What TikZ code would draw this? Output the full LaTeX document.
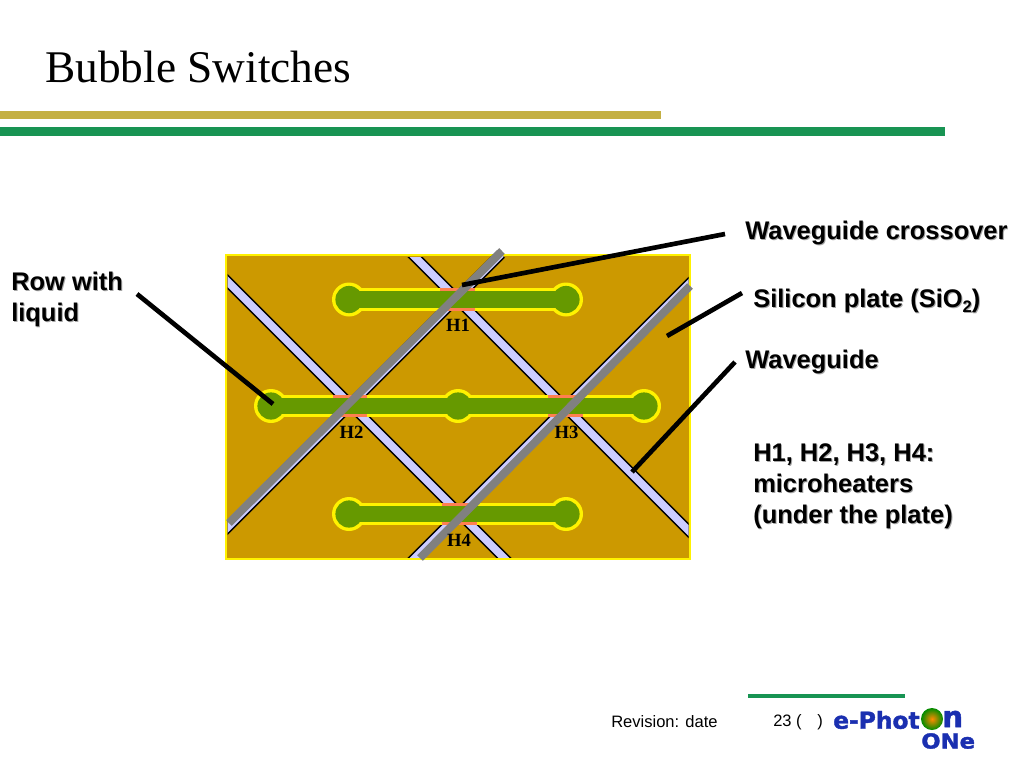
\documentclass[tikz,border=0pt]{standalone}
\usepackage{fontspec}
\setmainfont{Liberation Serif}
\newfontfamily\arialf{Liberation Sans}
\newfontfamily\logof[BoldFeatures={FakeBold=1.6}]{DejaVu Sans}
\definecolor{plate}{HTML}{CC9900}
\definecolor{bub}{HTML}{669900}
\definecolor{lav}{HTML}{CCCCFF}
\definecolor{greyw}{HTML}{808080}
\definecolor{heat}{HTML}{FF7F50}
\definecolor{goldb}{HTML}{C4B044}
\definecolor{greenb}{HTML}{189453}
\definecolor{logob}{HTML}{1A2FB0}
\tikzset{
  wave/.style={line width=1.1pt,double=lav,double distance=5.8pt},
  overlay grey/.style={draw=greyw,line width=6pt},
  callout/.style={draw=black,line width=3.5pt},
  bubout/.style={fill=yellow,draw=none},
  bubin/.style={fill=bub,draw=none},
  heater/.style={fill=heat,draw=none},
  lab/.style={font=\arialf\bfseries\fontsize{19.1pt}{23.2pt}\selectfont,anchor=west,align=left,inner sep=0pt,text=black},
  labs/.style={lab,text=black!35},
  hlab/.style={font=\bfseries\fontsize{14pt}{16pt}\selectfont,inner sep=0pt,text=black}
}
\begin{document}
\begin{tikzpicture}[x=0.75pt,y=-0.75pt]
\useasboundingbox (0,0) rectangle (1024,768);
% title bars
\fill[goldb] (0,111) rectangle (661,119.3);
\fill[greenb] (0,126.7) rectangle (945,136);
\node[anchor=west,inner sep=0pt,font=\fontsize{34pt}{36pt}\selectfont] (title) at (45,67) {Bubble Switches};
% plate
\fill[plate,draw=yellow,line width=2.1pt] (226,255) rectangle (690,559);
% waveguides
\coordinate (w1a) at (217,271); \coordinate (w1b) at (513,567);
\coordinate (w2a) at (405,247); \coordinate (w2b) at (698,540);
\coordinate (w3a) at (217,538); \coordinate (w3b) at (501,254);
\coordinate (w4a) at (405,568); \coordinate (w4b) at (697,276);
\begin{scope}
  \clip (227.5,257) rectangle (688.5,557);
  \draw[wave] (w1a) -- (w1b);
  \draw[wave] (w2a) -- (w2b);
  \draw[wave] (w4a) -- (w4b);
\end{scope}
\begin{scope}
  \clip (227.5,240) rectangle (688.5,557);
  \draw[wave] (w3a) -- (w3b);
\end{scope}
% bubbles: outline then fill
\foreach \x/\y in {349/299.5,566/299.5,271/406,458/406,644/406,349/514,566/514}
  \fill[bubout] (\x,\y) circle (17);
\fill[bubout] (349,288) rectangle (566,311);
\fill[bubout] (271,394.7) rectangle (644,417.3);
\fill[bubout] (349,502.7) rectangle (566,525.3);
\foreach \x/\y in {349/299.5,566/299.5,271/406,458/406,644/406,349/514,566/514}
  \fill[bubin] (\x,\y) circle (13.6);
\fill[bubin] (349,291.3) rectangle (566,307.7);
\fill[bubin] (271,398) rectangle (644,414);
\fill[bubin] (349,506) rectangle (566,522);
% heaters
\fill[heater] (440,288) rectangle (475,291.3);
\fill[heater] (440,307.7) rectangle (475,311);
\fill[heater] (333,394.7) rectangle (367,398);
\fill[heater] (333,414) rectangle (367,417.3);
\fill[heater] (548,394.7) rectangle (583,398);
\fill[heater] (548,414) rectangle (583,417.3);
\fill[heater] (442,502.7) rectangle (477,506);
\fill[heater] (442,522) rectangle (477,525.3);
% grey overlays
\coordinate (g1a) at (229,523); \coordinate (g1b) at (502,251);
\coordinate (g2a) at (420,558); \coordinate (g2b) at (690,286);
\draw[overlay grey] (g1a) -- (g1b);
\draw[overlay grey] (g2a) -- (g2b);
% heater labels
\node[hlab] (h1) at (458,325.5) {H1};
\node[hlab] (h2) at (351.5,432.5) {H2};
\node[hlab] (h3) at (566.5,432.5) {H3};
\node[hlab] (h4) at (459,540.5) {H4};
% labels
\node[labs] at (746,234) {Waveguide crossover};
\node[lab] (lcross) at (745,233) {Waveguide crossover};
\node[labs] at (754,302) {Silicon plate (SiO\raisebox{-0.2em}{\fontsize{12.5pt}{12.5pt}\selectfont 2})};
\node[lab] (lsil) at (753,301) {Silicon plate (SiO\raisebox{-0.2em}{\fontsize{12.5pt}{12.5pt}\selectfont 2})};
\node[labs] at (746,362.5) {Waveguide};
\node[lab] (lwave) at (745,361.5) {Waveguide};
\node[labs] at (12,300.5) {Row with\\liquid};
\node[lab] (lrow) at (11,299.5) {Row with\\liquid};
\node[labs] at (754,487.5) {H1, H2, H3, H4:\\microheaters\\(under the plate)};
\node[lab] (lheat) at (753,486.5) {H1, H2, H3, H4:\\microheaters\\(under the plate)};
% callouts
\coordinate (c1a) at (725,234); \coordinate (c1b) at (462,285);
\coordinate (c2a) at (742,293); \coordinate (c2b) at (667,336);
\coordinate (c3a) at (137,294); \coordinate (c3b) at (273,404);
\coordinate (c4a) at (735,362); \coordinate (c4b) at (632,472);
\draw[callout] (c1a) -- (c1b);
\draw[callout] (c2a) -- (c2b);
\draw[callout] (c3a) -- (c3b);
\draw[callout] (c4a) -- (c4b);
% footer
\coordinate (fa) at (748,696); \coordinate (fb) at (905,696);
\draw[greenb,line width=3pt] (fa) -- (fb);
\node[anchor=west,inner sep=0pt,font=\arialf\fontsize{12.4pt}{14pt}\selectfont] (rev) at (611,722) {Revision: date};
\node[anchor=west,inner sep=0pt,font=\arialf\fontsize{12.4pt}{14pt}\selectfont] (pg) at (773,722) {23 (\hspace{0.95em})};
% logo
\node[anchor=west,inner sep=0pt,text=logob,font=\logof\bfseries\fontsize{17.5pt}{18pt}\selectfont] (lg1) at (833,720) {e-Phot};
\shade[inner color=orange!90!yellow,middle color=yellow!60!green,outer color=green!55!black] (932,719) circle (11);
\node[anchor=west,inner sep=0pt,text=logob,font=\logof\bfseries\fontsize{22pt}{24pt}\selectfont] (lg2) at (942,719) {n};
\node[anchor=west,inner sep=0pt,text=logob,xscale=1.1,font=\logof\bfseries\fontsize{15.5pt}{18pt}\selectfont] (lg3) at (921,741) {ONe};
\end{tikzpicture}
\end{document}
